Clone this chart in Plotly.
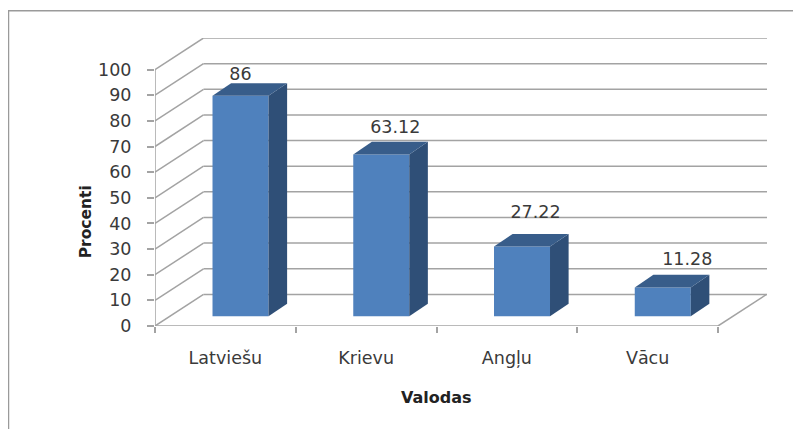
import plotly.graph_objects as go

# ---- data ----
categories = ["Latviešu", "Krievu", "Angļu", "Vācu"]
values = [86, 63.12, 27.22, 11.28]
y_ticks = [0, 10, 20, 30, 40, 50, 60, 70, 80, 90, 100]
x_title = "Valodas"
y_title = "Procenti"

# ---- page geometry (pixels) ----
W, H = 801, 429
PAGE_MARGIN = 8                              # browser body margin around the figure
L, R, T, B = 155, 767, 37.7, 325.7          # plot box, page coordinates
PX_PER_CAT = 140.75
PX_PER_UNIT = 2.564
X_MAX = (R - L) / PX_PER_CAT
Y_MAX = (B - T) / PX_PER_UNIT

# oblique projection of the chart depth, in axis units
WALL_DX, WALL_DY = 48.5 / PX_PER_CAT, 31.6 / PX_PER_UNIT
BAR_SHIFT_X, BAR_BASE = 0.1075, 9.7 / PX_PER_UNIT
BAR_W = 56 / PX_PER_CAT
BAR_DX, BAR_DY = 18.6 / PX_PER_CAT, 12.6 / PX_PER_UNIT
label_gap = [20, 26, 33, 27]                 # px above front top edge
label_dx = [0, 14, 13.5, 24.5]               # px right of front centre

FRONT, SIDE, TOP = "#4f81bd", "#2f4f77", "#385d8a"
GRID = "#a3a3a3"
TEXT = "#3a3a3a"
FONT = "DejaVu Sans"
n = len(categories)
centers = [i + 0.5 + BAR_SHIFT_X for i in range(n)]


def px(x):
    return (x - L) / (R - L)


def py(y):
    return (B - y) / (B - T)


shapes = []


def seg(x0, y0, x1, y1):
    shapes.append(dict(type="line", xref="x", yref="y", x0=x0, y0=y0, x1=x1, y1=y1,
                       layer="below", line=dict(color=GRID, width=1.5)))


for t in y_ticks:
    seg(0, t, WALL_DX, t + WALL_DY)
    seg(WALL_DX, t + WALL_DY, X_MAX, t + WALL_DY)
seg(0, 0, 0, y_ticks[-1])
seg(0, 0, n, 0)
seg(n, 0, n + WALL_DX, WALL_DY)

# outer frame of the picture
shapes.append(dict(type="path", xref="paper", yref="paper", layer="below",
                   path=f"M {px(8.5)} {py(429)} L {px(8.5)} {py(10.5)} L {px(801)} {py(10.5)}",
                   line=dict(color="#9a9a9a", width=1.5)))

fig = go.Figure()
fig.add_trace(go.Bar(x=centers, y=values, base=[BAR_BASE] * n, width=BAR_W,
                     marker=dict(color=FRONT, line=dict(width=0)),
                     showlegend=False, hoverinfo="skip"))

for c, v in zip(centers, values):
    xl, xr = c - BAR_W / 2, c + BAR_W / 2
    y0, y1 = BAR_BASE, BAR_BASE + v
    fig.add_trace(go.Scatter(x=[xr, xr + BAR_DX, xr + BAR_DX, xr, xr],
                             y=[y0, y0 + BAR_DY, y1 + BAR_DY, y1, y0],
                             mode="lines", fill="toself", fillcolor=SIDE,
                             line=dict(width=0, color=SIDE), showlegend=False, hoverinfo="skip"))
    fig.add_trace(go.Scatter(x=[xl, xl + BAR_DX, xr + BAR_DX, xr, xl],
                             y=[y1, y1 + BAR_DY, y1 + BAR_DY, y1, y1],
                             mode="lines", fill="toself", fillcolor=TOP,
                             line=dict(width=0, color=TOP), showlegend=False, hoverinfo="skip"))

fig.add_trace(go.Scatter(x=[c + d / PX_PER_CAT for c, d in zip(centers, label_dx)],
                         y=[BAR_BASE + v + g / PX_PER_UNIT for v, g in zip(values, label_gap)],
                         mode="text", text=[f"{v:g}" for v in values],
                         textposition="middle center",
                         textfont=dict(family=FONT, size=17.5, color=TEXT),
                         showlegend=False, hoverinfo="skip"))

fig.update_layout(
    width=W - PAGE_MARGIN, height=H - PAGE_MARGIN,
    margin=dict(l=L - PAGE_MARGIN, r=W - R, t=T - PAGE_MARGIN, b=H - B, pad=0),
    paper_bgcolor="white", plot_bgcolor="white",
    showlegend=False, shapes=shapes,
    xaxis=dict(range=[0, X_MAX], showgrid=False, zeroline=False, showline=False,
               tickmode="array", tickvals=[i + 0.5 for i in range(n)], ticktext=categories,
               ticks="", ticklabelstandoff=19,
               tickfont=dict(family=FONT, size=17.5, color=TEXT),
               minor=dict(tickmode="array", tickvals=list(range(n + 1)), ticks="outside",
                          ticklen=6, tickwidth=1.5, tickcolor=GRID, showgrid=False)),
    yaxis=dict(range=[0, Y_MAX], showgrid=False, zeroline=False, showline=False,
               tickmode="array", tickvals=y_ticks, ticks="outside", ticklen=7,
               tickwidth=1.5, tickcolor=GRID, ticklabelstandoff=12,
               tickfont=dict(family=FONT, size=17.5, color=TEXT)),
    annotations=[
        dict(text=x_title, xref="paper", yref="paper", x=px(436), y=py(397), showarrow=False,
             xanchor="center", yanchor="middle",
             font=dict(family=FONT, size=16, color="#222222", weight="bold")),
        dict(text=y_title, xref="paper", yref="paper", x=px(86), y=py(222), showarrow=False,
             textangle=-90, xanchor="center", yanchor="middle",
             font=dict(family=FONT, size=15.5, color="#222222", weight="bold")),
    ],
)

fig.write_html("out.html")
